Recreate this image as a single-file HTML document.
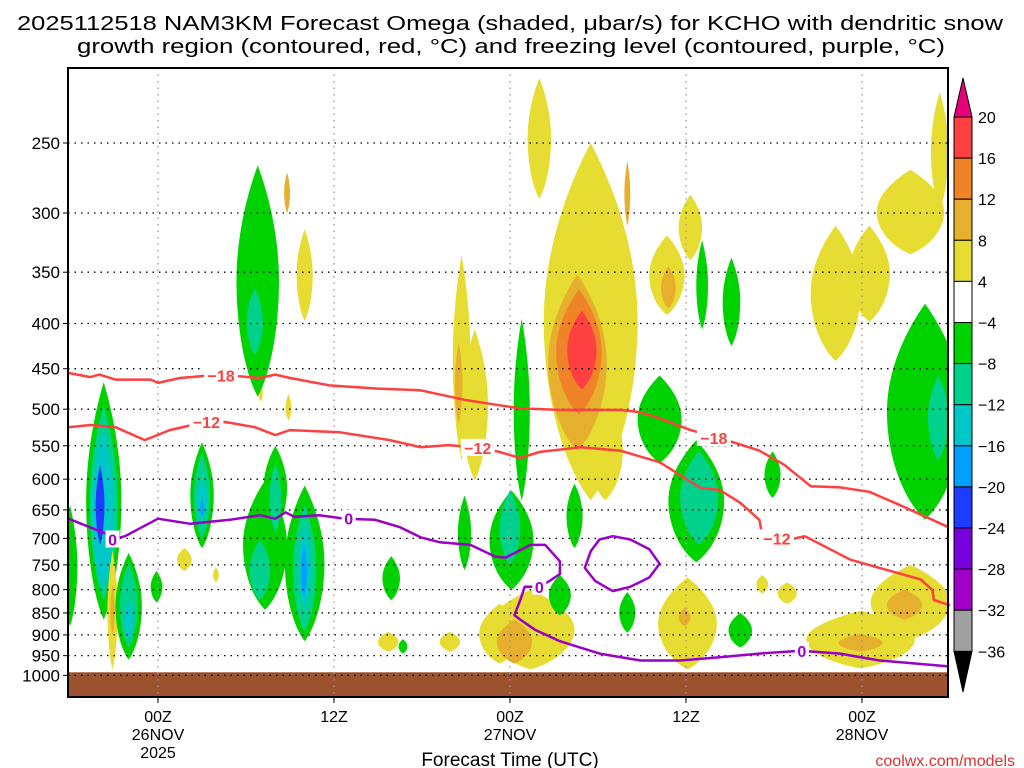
<!DOCTYPE html>
<html><head><meta charset="utf-8"><style>
html,body{margin:0;padding:0;background:#fff;}
svg{display:block;font-family:"Liberation Sans",sans-serif;}
</style></head><body>
<svg id="chart" width="1024" height="768" viewBox="0 0 1024 768" xmlns="http://www.w3.org/2000/svg">
<text x="510" y="30" text-anchor="middle" font-size="20" textLength="986" lengthAdjust="spacingAndGlyphs">2025112518 NAM3KM Forecast Omega (shaded, μbar/s) for KCHO with dendritic snow</text>
<text x="511" y="53" text-anchor="middle" font-size="20" textLength="868" lengthAdjust="spacingAndGlyphs">growth region (contoured, red, °C) and freezing level (contoured, purple, °C)</text>
<g id="plot"></g>
<g id="axes"></g>
<g id="cbar"></g>
<text x="510" y="766" text-anchor="middle" font-size="19">Forecast Time (UTC)</text>
<text x="1015" y="766" text-anchor="end" font-size="16" fill="#e03030">coolwx.com/models</text>
</svg>
<script>
// ---- data ----
const pressureTicks=[250,300,350,400,450,500,550,600,650,700,750,800,850,900,950,1000];
const timeTickHours=[0,12,24,36,48];
const timeTickLabels=[["00Z","26NOV","2025"],["12Z"],["00Z","27NOV"],["12Z"],["00Z","28NOV"]];
const cbarLevels=[20,16,12,8,4,-4,-8,-12,-16,-20,-24,-28,-32,-36];
const cbarColors=["#ff4040","#f08228","#e6af2d","#e6dc32","#ffffff","#00d200","#00d28c","#00c8c8","#00a0ff","#1e3cff","#7800dc","#a000c8","#a0a0a0"];
// shaded omega cells: hour, top pressure, bottom pressure, half width (h), omega value
const blobHour=[-6.0,-3.7,-3.7,-3.75,-3.95,-3.1,-3.1,-2.0,-2.0,-2.0,-0.1,3.0,3.0,3.0,3.0,1.8,3.95,8.9,7.0,7.3,6.95,8.0,8.0,10.0,10.0,10.0,9.95,6.8,6.6,10.0,8.8,15.9,15.7,16.7,20.9,19.9,20.7,21.6,20.5,
 26.0,29.5,30.5,28.6,28.7,28.9,32.0,34.7,34.8,36.3,37.1,39.1,46.2,48.5,51.3,53.3,
 25.4,23.3,24.3,24.1,24.0,24.8,27.4,28.4,32.0,36.1,35.9,41.2,42.9,39.7,41.9,34.2,36.7,36.9,52.3,53.2,47.9,51.3,50.9,47.9];
const blobPTop=[642,466,495,527,578,722,790,727,745,822,762,545,560,600,635,718,755,481,470,602,702,550,575,610,641,675,712,265,365,313,270,733,893,910,626,893,335,406,420,
 211,250,488,352,366,387,262,318,345,286,322,337,310,310,268,219,
 800,830,865,618,618,395,770,607,805,775,840,770,785,850,558,458,542,557,380,458,845,750,800,898];
const blobPBot=[880,865,822,800,712,985,900,960,930,911,827,718,700,670,660,762,785,515,490,843,822,685,690,915,893,843,815,484,434,397,300,822,940,945,760,940,571,602,520,
 289,634,634,557,507,475,310,391,385,339,406,424,441,398,334,297,
 985,970,970,800,750,634,855,718,895,985,880,808,830,930,630,575,745,712,667,571,982,911,865,940];
const blobHalfW=[0.5,1.2,0.95,0.75,0.3,0.35,0.15,0.9,0.6,0.3,0.4,0.8,0.55,0.35,0.15,0.5,0.2,0.2,0.15,1.5,0.7,0.8,0.4,1.35,0.8,0.4,0.2,1.45,0.55,0.55,0.2,0.6,0.7,0.3,0.45,0.7,0.6,0.9,0.25,
 0.8,3.2,1.2,2.0,1.55,1.0,0.2,1.2,0.5,0.8,0.4,0.6,1.7,1.4,2.3,0.6,
 3.0,1.4,1.2,1.5,0.7,0.55,0.75,0.55,0.55,2.0,0.4,0.4,0.65,0.8,0.55,1.5,1.9,1.3,2.6,0.7,3.7,2.7,1.2,1.5];
const blobValue=[-6,-6,-10,-14,-22,6,10,-6,-10,-14,-6,-6,-10,-14,-18,6,6,6,6,-6,-10,-6,-10,-6,-10,-14,-18,-6,-10,6,10,-6,6,-6,-6,6,6,6,10,
 6,6,6,10,14,18,10,6,10,6,-6,-6,6,6,6,6,
 6,6,10,-6,-10,-6,-6,-6,-6,6,10,6,6,-6,-6,-6,-6,-10,-6,-10,6,6,10,10];
// -18C contour
const m18Hour=[-6.1,-4.6,-4.0,-2.9,-0.5,0,1.5,4.2,6.95,8.0,9.0,11.7,15.1,17.9,20.9,23.3,24.7,27.4,31.5,32.9,34.2,36.3,38.3,41.0,42.7,44.5,46.5,48.5,50.6,53.9];
const m18Pres=[455,460,457,463,463,467,461,457,461,457,461,470,474,476,488,495,499,501,501,504,512,528,539,557,578,611,613,620,642,680];
// -12C contour (two segments)
const m12aHour=[-6.1,-4.6,-2.9,-0.9,0.8,3.2,4.6,6.6,8.0,9.0,12.4,15.8,17.9,19.8,22.0,23.3,24.7,26.0,28.8,31.5,34.2,37.0,38.3,39.7,41.0,41.2];
const m12aPres=[524,521,524,542,528,517,517,524,535,528,531,542,552,549,553,559,568,559,552,557,574,614,617,638,667,694];
const m12bHour=[43.1,44.1,47.2,49.2,52.0,52.8,52.9,54.0];
const m12bPres=[702,696,740,756,779,801,822,833];
// 0C freezing level
const fzHour=[-6.1,-3.3,-3.1,-2.25,0,2.2,4.9,6.95,8.0,8.7,9.3,11.0,12.75,14.8,16.5,17.9,19.2,21.3,23.0,23.7,25.4,26.4,27.4,27.4,26.7,26.0,25.0,24.7,24.3,24.7,25.7,27.4,30.1,32.9,35.6,38.3,41.0,43.8,46.5,49.2,53.9];
const fzPres=[665,694,702,696,665,674,667,659,665,654,662,659,665,667,680,698,707,712,734,736,712,712,743,768,782,794,794,822,855,865,888,915,945,962,962,954,945,938,945,962,977];
const fzLoopHour=[31.0,32.2,33.5,34.2,33.5,32.2,31.0,29.8,29.1,29.5,30.1,31.0];
const fzLoopPres=[696,702,720,748,775,794,803,782,756,724,702,696];
const surfacePres=992;

// ---- axes ----
const X0=68,X1=948,Y0=68,Y1=697;
const xs=h=>158+h*176/12;
const ys=p=>143+384*Math.log(p/250);
const NS="http://www.w3.org/2000/svg";
function mk(tag,attrs,parent){const e=document.createElementNS(NS,tag);for(const k in attrs)e.setAttribute(k,attrs[k]);parent.appendChild(e);return e;}
const colorFor=v=>{for(let i=0;i<cbarColors.length;i++){if(v<=cbarLevels[i]&&v>cbarLevels[i+1])return cbarColors[i];}return "#fff";};
const plot=document.getElementById('plot'),axes=document.getElementById('axes'),cbar=document.getElementById('cbar');
const clip=mk('clipPath',{id:'pc'},plot);mk('rect',{x:X0,y:Y0,width:X1-X0,height:Y1-Y0},clip);
const shade=mk('g',{'clip-path':'url(#pc)'},plot);


blobHour.forEach((h,i)=>{
  const cx=xs(h),t=ys(blobPTop[i]),b=ys(blobPBot[i]),w=blobHalfW[i]*176/12,m=(t+b)/2;
  const d=`M${cx},${t} C${cx+w*0.7},${t+(m-t)*0.35} ${cx+w},${m-(m-t)*0.3} ${cx+w},${m} C${cx+w},${m+(b-m)*0.4} ${cx+w*0.6},${b-(b-m)*0.2} ${cx},${b} C${cx-w*0.6},${b-(b-m)*0.2} ${cx-w},${m+(b-m)*0.4} ${cx-w},${m} C${cx-w},${m-(m-t)*0.3} ${cx-w*0.7},${t+(m-t)*0.35} ${cx},${t}Z`;
  const el=mk('path',{d:d,fill:colorFor(blobValue[i])},shade);
  
  
});
// ground
const gr=mk('rect',{x:X0,y:ys(surfacePres),width:X1-X0,height:Y1-ys(surfacePres),fill:'#9c522e'},plot);


// grid
pressureTicks.forEach(p=>{
  const g=mk('line',{x1:X0,x2:X1,y1:ys(p),y2:ys(p),stroke:'#000','stroke-width':1.3,'stroke-dasharray':'1.5 5'},plot);
  
  
  const l=mk('text',{x:60,y:ys(p)+6,'text-anchor':'end','font-size':17},axes);l.textContent=p;
  
  
  mk('line',{x1:X0-5,x2:X0,y1:ys(p),y2:ys(p),stroke:'#000'},axes);
});
timeTickHours.forEach((h,i)=>{
  const g=mk('line',{x1:xs(h),x2:xs(h),y1:Y0,y2:Y1,stroke:'#999','stroke-width':1.3,'stroke-dasharray':'1.5 5'},plot);
  
  
  mk('line',{x1:xs(h),x2:xs(h),y1:Y1,y2:Y1+6,stroke:'#000'},axes);
  timeTickLabels[i].forEach((s,j)=>{const t=mk('text',{x:xs(h),y:722+j*18,'text-anchor':'middle','font-size':16},axes);t.textContent=s;
    
    });
});
// contours
function line(hs,ps,color,name,closed){
  let d=hs.map((h,i)=>(i?'L':'M')+xs(h).toFixed(1)+','+ys(ps[i]).toFixed(1)).join(' ');if(closed)d+='Z';
  const e=mk('path',{d:d,fill:'none',stroke:color,'stroke-width':2.5,'stroke-linejoin':'round'},plot);
  
  
}
line(m18Hour,m18Pres,'#ff4040','contour-minus-18');
line(m12aHour,m12aPres,'#ff4040','contour-minus-12');
line(m12bHour,m12bPres,'#ff4040','contour-minus-12-east');
line(fzHour,fzPres,'#9a00c8','freezing-level');
line(fzLoopHour,fzLoopPres,'#9a00c8','freezing-level-loop',true);
function lab(h,p,s,c){const bg=mk('rect',{x:xs(h)-s.length*5-2,y:ys(p)-9,width:s.length*10+4,height:17,fill:'#fff'},plot);
  const t=mk('text',{x:xs(h),y:ys(p)+6,'text-anchor':'middle','font-size':16,'font-weight':'bold',fill:c},plot);t.textContent=s;
  
  }
lab(4.3,458,'−18','#ff4040');lab(37.9,539,'−18','#ff4040');
lab(3.3,517,'−12','#ff4040');lab(21.8,553,'−12','#ff4040');lab(42.2,700,'−12','#ff4040');
lab(-3.1,702,'0','#9a00c8');lab(13.0,665,'0','#9a00c8');lab(26.0,794,'0','#9a00c8');lab(43.9,938,'0','#9a00c8');
const fr=mk('rect',{x:X0,y:Y0,width:X1-X0,height:Y1-Y0,fill:'none',stroke:'#000','stroke-width':2},axes);


// colorbar (evenly spaced by level index)
const cy=i=>117+i*41.1, CX=954, CW=18;
const last=cbarLevels.length-1;
mk('path',{d:`M${CX},${cy(0)} L${CX+CW/2},78 L${CX+CW},${cy(0)}Z`,fill:'#e6007a',stroke:'#000'},cbar);
mk('path',{d:`M${CX},${cy(last)} L${CX+CW/2},692 L${CX+CW},${cy(last)}Z`,fill:'#000',stroke:'#000'},cbar);
cbarColors.forEach((c,i)=>{const r=mk('rect',{x:CX,y:cy(i),width:CW,height:cy(i+1)-cy(i),fill:c,stroke:'#000'},cbar);
  
  });
cbarLevels.forEach((v,i)=>{const t=mk('text',{x:978,y:cy(i)+6,'font-size':16},cbar);t.textContent=v<0?'−'+(-v):v;
  
  });
</script>
</body></html>
